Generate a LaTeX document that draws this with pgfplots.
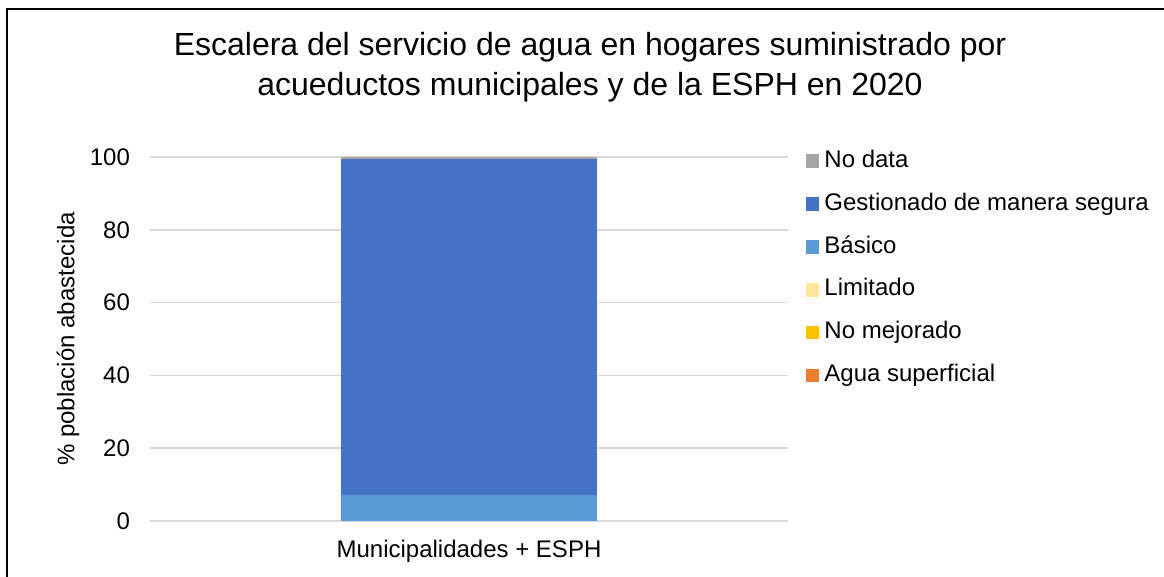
\documentclass[border=0pt]{standalone}
\usepackage{pgfplots}
\pgfplotsset{compat=1.18}
\usepackage{fontspec}
\setmainfont{Liberation Sans}
\definecolor{cGray}{HTML}{A5A5A5}
\definecolor{cDark}{HTML}{4472C4}
\definecolor{cLight}{HTML}{5B9BD5}
\definecolor{cLim}{HTML}{FFE699}
\definecolor{cNoM}{HTML}{FFC000}
\definecolor{cSup}{HTML}{ED7D31}
\definecolor{cGrid}{HTML}{D9D9D9}
\begin{document}
\begin{tikzpicture}
\useasboundingbox (0,0) rectangle (582pt,288.5pt);
\clip (0,0) rectangle (582pt,288.5pt);
\draw[line width=1pt, black] (3.25pt,-20pt) -- (3.25pt,283.75pt) -- (620pt,283.75pt);
\node[align=center, font=\fontsize{16}{20}\selectfont, anchor=center] at (295pt,255pt)
  {Escalera del servicio de agua en hogares suministrado por\\acueductos municipales y de la ESPH en 2020};
\begin{axis}[
  at={(75pt,28pt)}, anchor=south west,
  scale only axis, width=319pt, height=182pt,
  ybar stacked, bar width=128pt,
  xmin=-1, xmax=1, ymin=0, ymax=100,
  xtick={0}, xticklabels={Municipalidades + ESPH},
  ytick={0,20,40,60,80,100},
  axis x line*=bottom, axis y line*=left,
  x axis line style={draw=cGrid, line width=0.9pt},
  y axis line style={draw=none},
  ymajorgrids, grid style={draw=cGrid, line width=0.75pt},
  major tick length=0pt,
  tick label style={font=\fontsize{12}{14}\selectfont},
  /pgf/number format/assume math mode=true,
  yticklabel style={xshift=-6.5pt},
  xticklabel style={yshift=-6pt},
  ylabel={\% población abastecida},
  every axis y label/.style={at={(axis description cs:-0.1285,0.5)}, rotate=90, anchor=center, font=\fontsize{12}{14}\selectfont},
  reverse legend,
  legend style={draw=none, fill=none, at={(1.028,1.019)}, anchor=north west, inner sep=0pt, outer sep=0pt,
    font=\fontsize{12}{14}\selectfont, row sep=10.45pt,
    nodes={inner sep=0pt, outer sep=0pt, text height=8.6pt, text depth=2.4pt}},
  legend cell align=left,
  legend image code/.code={\fill[#1] (0pt,-3.4pt) rectangle (6.8pt,3.4pt);},
  legend style={column sep=2.5pt},
]
\addplot[fill=cSup, draw=none] coordinates {(0,0)};
\addlegendentry{Agua superficial}
\addplot[fill=cNoM, draw=none] coordinates {(0,0)};
\addlegendentry{No mejorado}
\addplot[fill=cLim, draw=none] coordinates {(0,0)};
\addlegendentry{Limitado}
\addplot[fill=cLight, draw=none] coordinates {(0,7.1)};
\addlegendentry{Básico}
\addplot[fill=cDark, draw=none] coordinates {(0,92.4)};
\addlegendentry{Gestionado de manera segura}
\addplot[fill=cGray, draw=none] coordinates {(0,0.5)};
\addlegendentry{No data}
\end{axis}
\end{tikzpicture}
\end{document}
